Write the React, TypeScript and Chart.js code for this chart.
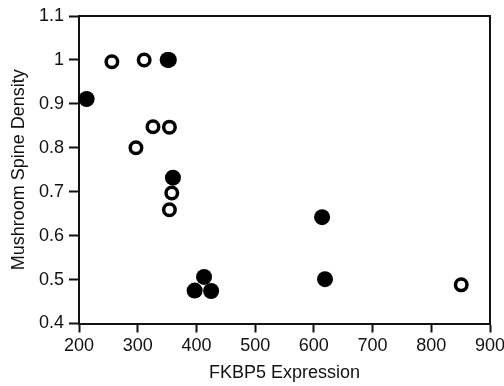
import React, { useEffect, useRef } from "react";
import { Chart, registerables } from "chart.js";

Chart.register(...registerables);

const filledX = [213, 351, 353, 360, 614, 619, 397, 413, 425];
const filledY = [0.911, 1.0, 1.0, 0.732, 0.642, 0.501, 0.475, 0.506, 0.474];
const openX = [256, 311, 297, 326, 354, 358, 354, 851];
const openY = [0.996, 1.0, 0.8, 0.848, 0.847, 0.697, 0.659, 0.488];

const xTitle = "FKBP5 Expression";
const yTitle = "Mushroom Spine Density";

const FONT = "'Liberation Sans', Arial, Helvetica, sans-serif";
const INK = "#111";

const framePlugin = {
  id: "frame",
  afterDraw(chart: any) {
    const { ctx, chartArea } = chart;
    ctx.save();
    ctx.strokeStyle = INK;
    ctx.lineWidth = 2;
    ctx.beginPath();
    ctx.moveTo(chartArea.left, chartArea.top);
    ctx.lineTo(chartArea.right, chartArea.top);
    ctx.lineTo(chartArea.right, chartArea.bottom);
    ctx.stroke();
    ctx.restore();
  },
};

export default function App() {
  const ref = useRef<HTMLCanvasElement | null>(null);
  useEffect(() => {
    if (!ref.current) return;
    const chart = new Chart(ref.current, {
      type: "scatter",
      data: {
        datasets: [
          {
            label: "filled",
            data: filledX.map((x, i) => ({ x, y: filledY[i] })),
            pointRadius: 8,
            pointBackgroundColor: "#000",
            pointBorderWidth: 0,
            pointBorderColor: "#000",
          },
          {
            label: "open",
            data: openX.map((x, i) => ({ x, y: openY[i] })),
            pointRadius: 5.75,
            pointBackgroundColor: "#fff",
            pointBorderWidth: 3.5,
            pointBorderColor: "#000",
          },
        ],
      },
      options: {
        animation: false,
        responsive: false,
        maintainAspectRatio: false,
        clip: false as any,
        layout: { padding: { top: 16, right: 14, left: 0, bottom: 0 } },
        plugins: {
          legend: { display: false },
          tooltip: { enabled: false },
        },
        scales: {
          x: {
            type: "linear",
            min: 200,
            max: 900,
            ticks: {
              stepSize: 100,
              color: INK,
              padding: 3,
              font: { family: FONT, size: 18 },
            },
            grid: {
              drawOnChartArea: false,
              drawTicks: true,
              tickLength: 9,
              tickWidth: 2,
              tickColor: INK,
            },
            border: { display: true, color: INK, width: 2 },
            title: {
              display: true,
              text: xTitle,
              color: INK,
              font: { family: FONT, size: 18 },
              padding: { top: 0, bottom: 2 },
            },
            afterFit: (scale: any) => {
              scale.height = 62.5;
              scale.paddingRight = 0;
              scale.paddingLeft = 0;
            },
          },
          y: {
            type: "linear",
            min: 0.4,
            max: 1.1,
            ticks: {
              stepSize: 0.1,
              color: INK,
              padding: 5,
              font: { family: FONT, size: 18 },
              callback: (v: any) => String(parseFloat(Number(v).toFixed(1))),
            },
            grid: {
              drawOnChartArea: false,
              drawTicks: true,
              tickLength: 10,
              tickWidth: 2,
              tickColor: INK,
            },
            border: { display: true, color: INK, width: 2 },
            title: {
              display: true,
              text: yTitle,
              color: INK,
              font: { family: FONT, size: 18 },
              padding: { top: 8, bottom: 0 },
            },
            afterFit: (scale: any) => {
              scale.width = 79;
              scale.paddingTop = 0;
              scale.paddingBottom = 0;
            },
          },
        },
      } as any,
      plugins: [framePlugin],
    });
    return () => chart.destroy();
  }, []);
  return (
    <div style={{ position: "absolute", left: 0, top: 0, width: 504, height: 386, background: "#fff" }}>
      <canvas ref={ref} width={504} height={386} style={{ width: 504, height: 386 }} />
    </div>
  );
}
